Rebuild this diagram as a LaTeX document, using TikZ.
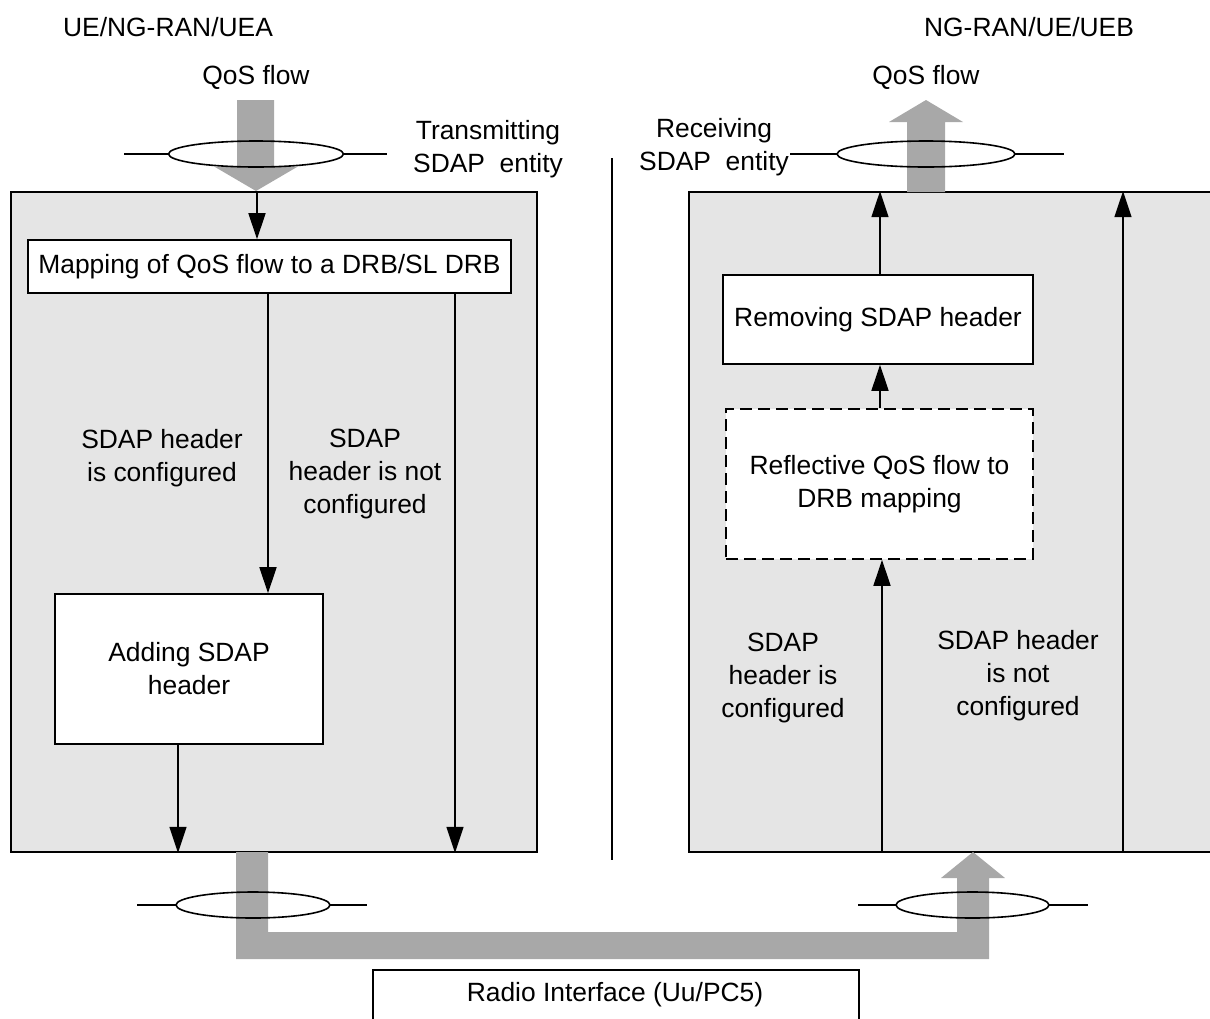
\documentclass[tikz,border=0pt]{standalone}
\usepackage{fontspec}
\setmainfont{Liberation Sans}
\usetikzlibrary{arrows.meta}
\definecolor{flow}{RGB}{168,168,168}
\definecolor{ent}{RGB}{229,229,229}
\begin{document}
\begin{tikzpicture}[x=0.5pt,y=-0.5pt,
  every node/.style={font=\fontsize{13.2}{16.5}\selectfont, align=center, inner sep=0pt},
  entity/.style={draw, line width=0.8pt, fill=ent},
  blk/.style={draw, line width=0.8pt, fill=white},
  dblk/.style={draw, line width=0.8pt, fill=white, dash pattern=on 6pt off 3pt},
  arr/.style={line width=0.8pt, -{Triangle[length=13pt,width=8.5pt]}},
  ln/.style={line width=0.8pt},
  flowfill/.style={fill=flow, draw=none}]
\useasboundingbox (0,0) rectangle (1210,1018);
\clip (0,0) rectangle (1210,1018);

% headers
\node (ueA) at (168,27) {UE/NG-RAN/UEA};
\node (ueB) at (1029,27) {NG-RAN/UE/UEB};
\node (qosL) at (256,77) {QoS flow};
\node (qosR) at (926,77) {QoS flow};
\node (tx) at (488,149) {Transmitting\\SDAP\ \ entity};
\node (rx) at (714,147) {Receiving\\SDAP\ \ entity};

% entity boxes
\node[entity, minimum width=263pt, minimum height=330pt] (lbox) at (274,522) {};
\node[entity, minimum width=280pt, minimum height=330pt] (rbox) at (969,522) {};

% separator
\coordinate (sepT) at (612,158);
\coordinate (sepB) at (612,860);
\draw[ln] (sepT) -- (sepB);

% top-left QoS flow (down)
\fill[flowfill] (237,100) -- (274,100) -- (274,167) -- (297,167) -- (256,191) -- (215,167) -- (237,167) -- cycle;
\draw[ln] (256,154) ellipse [x radius=87.5, y radius=13];
\coordinate (eL1) at (124,154); \coordinate (eL2) at (168.5,154);
\coordinate (eL3) at (343.5,154); \coordinate (eL4) at (387,154);
\draw[ln] (eL1) -- (eL2); \draw[ln] (eL3) -- (eL4);

% top-right QoS flow (up)
\fill[flowfill] (907,192) -- (945,192) -- (945,122) -- (963,122) -- (926,100) -- (889,122) -- (907,122) -- cycle;
\draw[ln] (926,154) ellipse [x radius=89, y radius=13];
\coordinate (eR1) at (790,154); \coordinate (eR2) at (837,154);
\coordinate (eR3) at (1015,154); \coordinate (eR4) at (1064,154);
\draw[ln] (eR1) -- (eR2); \draw[ln] (eR3) -- (eR4);

% bottom radio path
\fill[flowfill] (236,852) -- (268,852) -- (268,932) -- (957,932) -- (957,878) -- (941,878) -- (973,852) -- (1005,878) -- (989,878) -- (989,959) -- (236,959) -- cycle;
\draw[ln] (253,905) ellipse [x radius=77, y radius=13];
\coordinate (eB1) at (137,905); \coordinate (eB2) at (176,905);
\coordinate (eB3) at (330,905); \coordinate (eB4) at (367,905);
\draw[ln] (eB1) -- (eB2); \draw[ln] (eB3) -- (eB4);
\draw[ln] (972.5,905) ellipse [x radius=76.5, y radius=13];
\coordinate (eC1) at (858,905); \coordinate (eC2) at (896,905);
\coordinate (eC3) at (1049,905); \coordinate (eC4) at (1088,905);
\draw[ln] (eC1) -- (eC2); \draw[ln] (eC3) -- (eC4);

% radio interface
\node[blk, minimum width=243pt, minimum height=40pt, anchor=north west] (radio) at (372,969) {};
\node (radioT) at (615,995) {Radio Interface (Uu/PC5)};

% left side
\node[blk, minimum width=241.5pt, minimum height=26.5pt] (map) at (269.5,266.5) {Mapping of QoS flow to a DRB/SL DRB};
\node[blk, minimum width=134pt, minimum height=75pt] (add) at (189,669) {Adding SDAP\\header};
\draw[arr] (257,0 |- lbox.north) -- (257,0 |- map.north);
\draw[arr] (268,0 |- map.south) -- (268,0 |- add.north);
\draw[arr] (178,0 |- add.south) -- (178,0 |- lbox.south);
\draw[arr] (455,0 |- map.south) -- (455,0 |- lbox.south);
\node (l1) at (162,458) {SDAP header\\is configured};
\node (l2) at (365,474) {SDAP\\header is not\\configured};

% right side
\node[blk, minimum width=155pt, minimum height=44.5pt] (rem) at (878,319.5) {Removing SDAP header};
\node[dblk, minimum width=153.5pt, minimum height=75pt] (refl) at (879.5,484) {Reflective QoS flow to\\DRB mapping};
\draw[arr] (880,0 |- rem.north) -- (880,0 |- rbox.north);
\draw[arr] (880,0 |- refl.north) -- (880,0 |- rem.south);
\draw[arr] (882,0 |- rbox.south) -- (882,0 |- refl.south);
\draw[arr] (1123,0 |- rbox.south) -- (1123,0 |- rbox.north);
\node (r1) at (783,678) {SDAP\\header is\\configured};
\node (r2) at (1018,676) {SDAP header\\is not\\configured};
\end{tikzpicture}
\end{document}
